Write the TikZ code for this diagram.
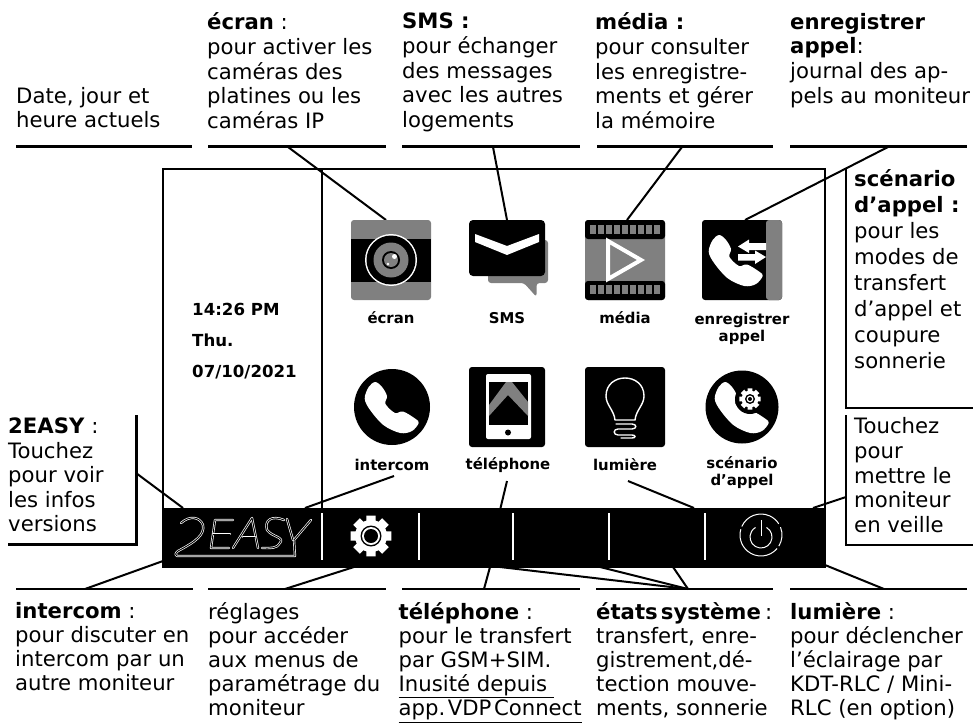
\documentclass[tikz,border=0pt]{standalone}
\usepackage{fontspec}
\setmainfont{DejaVu Sans}
\usetikzlibrary{calc}
\definecolor{midgray}{gray}{0.5}
\tikzset{
  x=1pt,y=-1pt,
  txtbase/.style={anchor=north west,inner sep=0pt,align=left,execute at begin node=\strut},
  txttop/.style={txtbase,font=\fontsize{21.2}{24.7}\selectfont},
  txtbot/.style={txtbase,font=\fontsize{21.2}{24.2}\selectfont},
  txtside/.style={txtbase,font=\fontsize{21.2}{24.6}\selectfont},
  txtscen/.style={txtbase,font=\fontsize{21.2}{26}\selectfont},
  iconlabel/.style={inner sep=0pt,align=center,font=\fontsize{14.9}{17}\selectfont\bfseries},
  clock/.style={anchor=west,inner sep=0pt,font=\fontsize{16.6}{18}\selectfont\bfseries},
  rule/.style={line width=2.4pt,black},
  siderule/.style={line width=2.3pt,black},
  conn/.style={line width=2pt,black},
  frameline/.style={line width=1.3pt,black},
  sep/.style={line width=2.6pt,white},
  logo/.style={draw=white,line width=.7pt,double=black,double distance=.9pt,line join=round,line cap=round},
  powerline/.style={white,line width=1pt},
}
\newcommand{\handset}[2]{%
  \fill[white,shift={(#1,#2)}] plot[smooth cycle,tension=.55] coordinates {(-16.7,-25) (-10,-20) (-5,-11) (-6.5,-3) (3,6) (11,4.5) (23.3,11.7) (26.7,16) (20,24) (8.3,26) (-8.3,18.3) (-21.7,3.3) (-27.3,-8.3) (-23.3,-20)};}
\newcommand{\gearshape}[4]{% x y outer-radius colour
  \fill[#4,shift={(#1,#2)}] (-13:#3) \foreach \a in {0,45,...,315}{ -- (\a-13:#3) -- (\a+13:#3) -- (\a+17:.76*#3) -- (\a+28:.76*#3)} -- cycle;}
\begin{document}
\begin{tikzpicture}
\useasboundingbox (0,0) rectangle (973,722);
\fill[white] (0,0) rectangle (973,722);
% named connector ends
\foreach \n/\x/\y in {
 ea/288/147, eb/386/220, sa/493/147, sb/507/220, ma/682/147, mb/627/220, ra/888/147, rb/745/220,
 ta/136/473, tb/183/508, ia/394/476, ib/305/508, pa/507/481, pb/500.5/508, la/628/481, lb/694/508,
 va/846/497, vb/813/508, ic/85/589, id/163/561, ga/285/589, gb/354/567, pc/484/589, pd/490/567,
 ha/688/589, hb/500/567, hc/600/567, hd/673/567, wa/825/565, wb/884/589}
 {\coordinate (\n) at (\x,\y);}
% screen frame
\draw[frameline] (163,169) rectangle (825,567);
\draw[frameline] (322,169) -- (322,508);
% rules
\foreach \a/\b in {16/192,208/386,402/580,597/773,790/967}{\draw[rule] (\a,146.7) -- (\b,146.7);}
\foreach \a/\b in {16/193,208/386,402/580,596/773,790/967}{\draw[rule] (\a,589) -- (\b,589);}
\draw[siderule] (846,169) -- (846,408) -- (973,408);
\draw[siderule] (846,415) -- (846,545) -- (973,545);
\draw[siderule] (136.5,415) -- (136.5,544.5) -- (8,544.5);
% connectors
\draw[conn] (ea)--(eb); \draw[conn] (sa)--(sb); \draw[conn] (ma)--(mb); \draw[conn] (ra)--(rb);
\draw[conn] (ta)--(tb); \draw[conn] (ia)--(ib); \draw[conn] (pa)--(pb); \draw[conn] (la)--(lb);
\draw[conn] (va)--(vb); \draw[conn] (ic)--(id); \draw[conn] (ga)--(gb); \draw[conn] (pc)--(pd);
\draw[conn] (ha)--(hb); \draw[conn] (ha)--(hc); \draw[conn] (ha)--(hd); \draw[conn] (wa)--(wb);
% --- bar
\fill[black] (163,508) rectangle (825,567);
\foreach \x in {322,419,513,609,705}{\draw[sep] (\x,513) -- (\x,560);}
% logo
\draw[logo] (181,523) .. controls (190,515) and (200,517) .. (203,525) .. controls (205,535) and (195,542) .. (178,551) .. controls (175,553) and (175,556) .. (177,556) -- (295,556) -- (294,540) -- (311,520);
\draw[logo] (293,540) -- (287,519);
\draw[logo] (233,520) -- (215,520) -- (211,548) -- (229,548);
\draw[logo] (213,534) -- (230,534);
\draw[logo] (233,548) -- (252,518) -- (258,548);
\draw[logo] (243,537) -- (255,537);
\draw[logo] (284,520) .. controls (272,515) and (264,520) .. (267,530) .. controls (272,537) and (285,537) .. (280,543) .. controls (277,549) and (270,548) .. (262,548);
% gear
\gearshape{371}{536}{21}{white}
\fill[white] (371,536) circle[radius=16];
\fill[black] (371,536) circle[radius=10.5];
\fill[white] (371,536) circle[radius=9];
\fill[black] (371,536) circle[radius=7];
% power
\foreach \s/\e in {-22/32,40/196,204/328}{
  \draw[powerline] (761,535) ++(\s:21) arc[start angle=\s,end angle=\e,radius=21];}
\draw[powerline] (761,537) ++(-60:11) arc[start angle=-60,end angle=240,radius=11];
\draw[powerline] (761,520) -- (761,536);
% --- ecran icon
\node[fill=midgray,inner sep=0pt,rounded corners=3pt,minimum width=80pt,minimum height=80pt] (ecranicon) at (391,260) {};
\fill[black] (351,239) rectangle (431,282);
\fill[white] (391,260) circle[radius=26];
\fill[black] (391,260) circle[radius=24.5];
\fill[midgray] (391,260) circle[radius=17.5];
\fill[black] (391,260) circle[radius=9];
\fill[midgray] (391,260) circle[radius=7];
\fill[white] (394.5,256.5) circle[radius=2.5];
\fill[white] (388,264) circle[radius=1.3];
% --- SMS icon
\fill[midgray,rounded corners=3pt] (488,240) -- (548,240) -- (548,283) -- (536.5,283) -- (536.5,297) -- (524,283) -- (488,283) -- cycle;
\node[fill=black,inner sep=0pt,rounded corners=4pt,minimum width=76pt,minimum height=56pt] (smsicon) at (507,248) {};
\fill[white] (475,234) -- (507,246) -- (539,234) -- (539,242) -- (507,255) -- (475,242) -- cycle;
% --- media icon
\node[fill=midgray,inner sep=0pt,rounded corners=3pt,minimum width=80pt,minimum height=80pt] (mediaicon) at (625,260) {};
\fill[black,rounded corners=3pt] (585,239) -- (585,220) -- (665,220) -- (665,239) -- cycle;
\fill[black,rounded corners=3pt] (585,281) -- (585,300) -- (665,300) -- (665,281) -- cycle;
\foreach \i in {0,...,8}{
  \fill[midgray] ({590+\i*8},225) rectangle +(5.7,9);
  \fill[midgray] ({590+\i*8},285) rectangle +(5.7,9);
}
\draw[white,line width=4pt,miter limit=6] (608,241) -- (641,260) -- (608,279) -- cycle;
% --- enregistrer icon
\node[fill=black,inner sep=0pt,rounded corners=3pt,minimum width=80pt,minimum height=80pt] (recicon) at (742,260) {};
\fill[midgray,rounded corners=3pt] (766,220) -- (782,220) -- (782,300) -- (766,300) -- cycle;
\handset{736}{260}
\fill[white] (766,243) -- (749,243) -- (749,239.5) -- (738,246.5) -- (749,253) -- (749,250) -- (766,250) -- cycle;
\fill[white] (738,254) -- (755,254) -- (755,250.5) -- (766,257) -- (755,264) -- (755,260.5) -- (738,260.5) -- cycle;
% --- intercom icon
\node[circle,fill=black,inner sep=0pt,minimum size=76pt] (intericon) at (392,407) {};
\handset{392}{407}
% --- telephone icon
\node[fill=black,inner sep=0pt,rounded corners=3pt,minimum width=76pt,minimum height=80pt] (telicon) at (507,407) {};
\fill[white,rounded corners=2pt] (486,374) rectangle (531,439);
\fill[black] (489,382) rectangle (528,425);
\fill[midgray] (489,405) -- (506,382) -- (512,382) -- (528,402) -- (528,416) -- (508,395) -- (489,416) -- cycle;
\fill[black] (508,432.5) circle[radius=3];
% --- lumiere icon
\node[fill=black,inner sep=0pt,rounded corners=3pt,minimum width=80pt,minimum height=80pt] (lumicon) at (625,407) {};
\draw[white,line width=1.4pt,line cap=round] (615,420) .. controls (614,410) and (606,405) .. (606,396) .. controls (606,372) and (644,372) .. (644,396) .. controls (644,405) and (636,410) .. (635,420) -- (615,420);
\draw[white,line width=1.4pt,line cap=round] (616,424) -- (632,424) .. controls (637,424) and (637,429) .. (632,429) -- (618,429) .. controls (613,429) and (613,435) .. (618,435) -- (632,435) .. controls (636,435) and (636,438) .. (632,438) -- (621,438);
% --- scenario icon
\node[circle,fill=black,inner sep=0pt,minimum size=73pt] (scenicon) at (742,407) {};
\handset{742}{407}
\fill[black] (750,399) circle[radius=15];
\gearshape{750}{399}{11}{white}
\fill[white] (750,399) circle[radius=8];
\fill[black] (750,399) circle[radius=5];
\fill[white] (750,399) circle[radius=3.4];
\fill[black] (750,399) circle[radius=2];
% icon labels
\node[iconlabel] (l1) at (391,318) {écran};
\node[iconlabel] (l2) at (507,318) {SMS};
\node[iconlabel] (l3) at (625,318) {média};
\node[iconlabel] (l4) at (742,329) {enregistrer\\appel};
\node[iconlabel] (l5) at (392,465) {intercom};
\node[iconlabel] (l6) at (508,465) {téléphone};
\node[iconlabel] (l7) at (625,465) {lumière};
\node[iconlabel] (l8) at (742,473) {scénario\\d’appel};
% clock
\node[clock] (c1) at (192,309) {14:26 PM};
\node[clock] (c2) at (192,340) {Thu.};
\node[clock] (c3) at (192,372) {07/10/2021};
% top texts
\node[txttop] (t0) at (16,86.7) {Date, jour et\\heure actuels};
\node[txttop] (t1) at (207,12.7) {\textbf{écran} :\\pour activer les\\caméras des\\platines ou les\\caméras IP};
\node[txttop] (t2) at (402,12.7) {\textbf{SMS :}\\pour échanger\\des messages\\avec les autres\\logements};
\node[txttop] (t3) at (595,12.7) {\textbf{média :}\\pour consulter\\les enregistre-\\ments et gérer\\la mémoire};
\node[txttop] (t4) at (790,12.7) {\textbf{enregistrer}\\\textbf{appel}:\\journal des ap-\\pels au moniteur};
% right
\node[txtscen] (s1) at (854,169) {\textbf{scénario}\\\textbf{d’appel :}\\pour les\\modes de\\transfert\\d’appel et\\coupure\\sonnerie};
\node[txtside] (s2) at (854,417.5) {Touchez\\pour\\mettre le\\moniteur\\en veille};
\node[txtside] (s3) at (8,417.5) {\textbf{2EASY} :\\Touchez\\pour voir\\les infos\\versions};
% bottom
\node[txtbot] (b1) at (15,602) {\textbf{intercom} :\\pour discuter en\\intercom par un\\autre moniteur};
\node[txtbot] (b2) at (208,602) {réglages\\pour accéder\\aux menus de\\paramétrage du\\moniteur};
\node[txtbot] (b3) at (398.5,602) {\textbf{téléphone} :\\pour le transfert\\par GSM+SIM.\\\underline{Inusité depuis\ }\\\underline{app.\hspace{.12em}VDP\hspace{.12em}Connect}};
\node[txtbot] (b4) at (596,602) {\textbf{états\hspace{.15em}système}\hspace{.2em}:\\transfert, enre-\\gistrement,dé-\\tection mouve-\\ments, sonnerie};
\node[txtbot] (b5) at (790,602) {\textbf{lumière} :\\pour déclencher\\l’éclairage par\\KDT-RLC / Mini-\\RLC (en option)};
\end{tikzpicture}
\end{document}
